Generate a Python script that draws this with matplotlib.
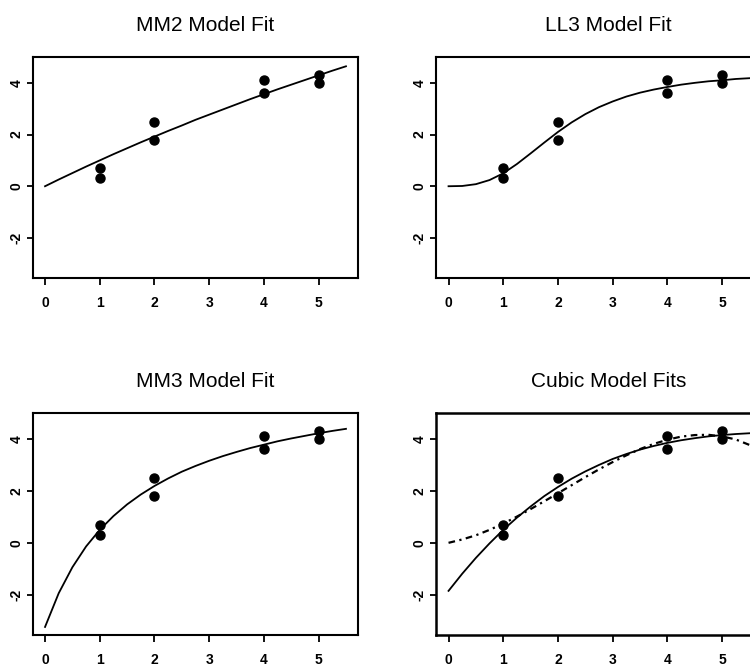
import matplotlib.pyplot as plt

# observed data
dose = [1, 1, 2, 2, 4, 4, 5, 5]
resp = [0.7, 0.3, 2.5, 1.8, 4.1, 3.6, 4.3, 4.0]

# fitted curves on a grid of x values
x_fit = [0, 0.25, 0.5, 0.75, 1, 1.25, 1.5, 1.75, 2, 2.25, 2.5, 2.75,
         3, 3.25, 3.5, 3.75, 4, 4.25, 4.5, 4.75, 5, 5.25, 5.5]
mm2_fit = [0, 0.26, 0.51, 0.76, 1.0, 1.24, 1.47, 1.70, 1.92, 2.14, 2.35, 2.57,
           2.77, 2.97, 3.17, 3.37, 3.56, 3.75, 3.93, 4.11, 4.29, 4.47, 4.64]
ll3_fit = [0, 0.01, 0.08, 0.24, 0.50, 0.86, 1.27, 1.69, 2.10, 2.47, 2.79, 3.06,
           3.28, 3.47, 3.62, 3.74, 3.84, 3.93, 4.00, 4.06, 4.10, 4.15, 4.18]
mm3_fit = [-3.24, -1.94, -0.94, -0.14, 0.50, 1.03, 1.48, 1.86, 2.19, 2.48, 2.74, 2.96,
           3.16, 3.34, 3.50, 3.65, 3.78, 3.91, 4.02, 4.12, 4.22, 4.31, 4.39]
cubic_fit = [-1.85, -1.19, -0.58, -0.02, 0.50, 0.97, 1.40, 1.80, 2.15, 2.47, 2.75, 3.00,
             3.23, 3.42, 3.59, 3.73, 3.85, 3.95, 4.03, 4.10, 4.15, 4.19, 4.22]
cubic0_fit = [0, 0.13, 0.29, 0.50, 0.74, 1.01, 1.30, 1.60, 1.91, 2.22, 2.53, 2.83,
              3.11, 3.37, 3.61, 3.81, 3.97, 4.09, 4.15, 4.16, 4.10, 3.98, 3.77]

titles = ["MM2 Model Fit", "LL3 Model Fit", "MM3 Model Fit", "Cubic Model Fits"]
x_ticks = [0, 1, 2, 3, 4, 5]
y_ticks = [-2, 0, 2, 4]

plt.rcParams['font.family'] = ['Liberation Sans', 'DejaVu Sans']
plt.rcParams['axes.unicode_minus'] = False

fig = plt.figure(figsize=(7.5, 6.69), dpi=100)
W, H = 750, 669

def make_axes(left, top, right, bottom):
    return fig.add_axes([left / W, 1 - bottom / H, (right - left) / W, (bottom - top) / H])

ax_tl = make_axes(33, 57, 358, 278)
ax_tr = make_axes(436.5, 57, 761.5, 278)
ax_bl = make_axes(33, 413, 358, 635)
ax_br = make_axes(436.5, 413, 761.5, 635)

curves = [[mm2_fit], [ll3_fit], [mm3_fit], [cubic_fit, cubic0_fit]]

for ax, title, fits in zip([ax_tl, ax_tr, ax_bl, ax_br], titles, curves):
    ax.plot(x_fit, fits[0], color='black', lw=1.3)
    if len(fits) > 1:
        ax.plot(x_fit, fits[1], color='black', lw=1.6, dashes=(3, 2, 1, 2))
    ax.plot(dose, resp, 'o', color='black', ms=6.5, zorder=5)
    ax.set_xlim(-0.22, 5.72)
    ax.set_ylim(-3.55, 5.0)
    ax.set_xticks(x_ticks)
    ax.set_yticks(y_ticks)
    ax.tick_params(axis='x', length=5, width=1.3, pad=8, labelsize=10)
    ax.tick_params(axis='y', length=4, width=1.3, pad=3, labelsize=10)
    for lab in ax.get_xticklabels():
        lab.set_fontweight('bold')
    for lab in ax.get_yticklabels():
        lab.set_fontweight('bold')
        lab.set_rotation(90)
        lab.set_va('center')
    for sp in ax.spines.values():
        sp.set_linewidth(1.5)
    ax.set_title(title, fontsize=15, pad=19, x=0.53)

for sp in ax_br.spines.values():
    sp.set_linewidth(1.8)

fig.savefig('out.png', dpi=100)
